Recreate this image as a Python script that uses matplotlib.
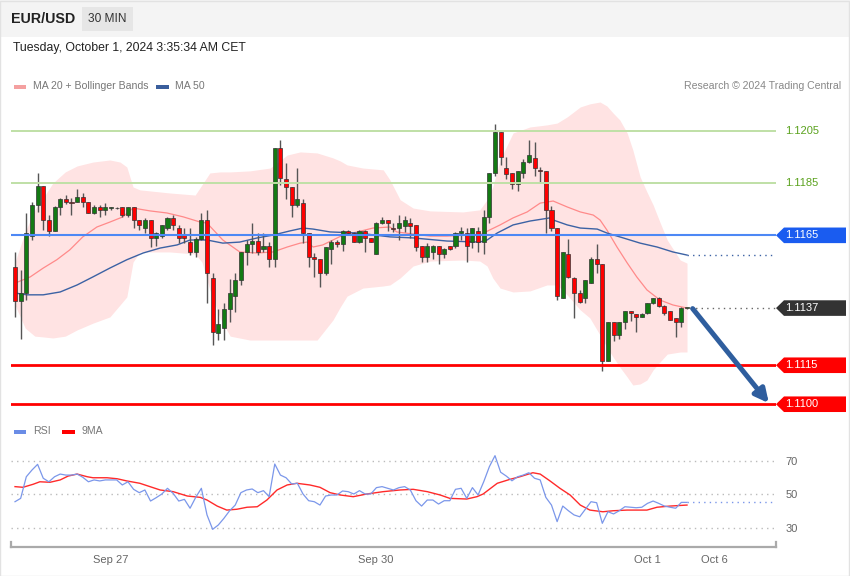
import numpy as np
import matplotlib
matplotlib.use('Agg')
import matplotlib.pyplot as plt
from matplotlib.patches import Rectangle, Polygon
from matplotlib import transforms

plt.rcParams['font.family'] = ['Liberation Sans', 'DejaVu Sans']

W, H = 850, 576
def fx(x): return x / W
def fy(y): return 1 - y / H

# --- 30 min candles EUR/USD ---
opens = [1.11528, 1.11397, 1.11428, 1.11647, 1.11767, 1.11840, 1.11709, 1.11667, 1.11759, 1.11790,
         1.11778, 1.11778, 1.11798, 1.11778, 1.11736, 1.11759, 1.11748, 1.11755, 1.11755, 1.11759,
         1.11728, 1.11759, 1.11709, 1.11678, 1.11709, 1.11640, 1.11647, 1.11678, 1.11717, 1.11678,
         1.11651, 1.11624, 1.11586, 1.11636, 1.11709, 1.11486, 1.11274, 1.11293, 1.11366, 1.11416,
         1.11478, 1.11586, 1.11617, 1.11628, 1.11597, 1.11609, 1.11559, 1.11986, 1.11867, 1.11836,
         1.11767, 1.11774, 1.11659, 1.11567, 1.11559, 1.11505, 1.11597, 1.11624, 1.11617, 1.11667,
         1.11659, 1.11624, 1.11667, 1.11640, 1.11578, 1.11697, 1.11709, 1.11678, 1.11678, 1.11686,
         1.11697, 1.11690, 1.11609, 1.11567, 1.11586, 1.11609, 1.11578, 1.11609, 1.11609, 1.11659,
         1.11659, 1.11624, 1.11667, 1.11624, 1.11721, 1.11890, 1.12048, 1.11909, 1.11890, 1.11848,
         1.11890, 1.11932, 1.11948, 1.11902, 1.11898, 1.11748, 1.11678, 1.11409, 1.11578, 1.11486,
         1.11428, 1.11409, 1.11466, 1.11559, 1.11540, 1.11166, 1.11316, 1.11266, 1.11316, 1.11359,
         1.11347, 1.11336, 1.11351, 1.11389, 1.11409, 1.11378, 1.11359, 1.11332, 1.11316, 1.11370]
highs = [1.11586, 1.11517, 1.11736, 1.11778, 1.11890, 1.11840, 1.11728, 1.11763, 1.11794, 1.11805,
         1.11794, 1.11828, 1.11813, 1.11778, 1.11767, 1.11767, 1.11774, 1.11759, 1.11759, 1.11759,
         1.11759, 1.11759, 1.11709, 1.11717, 1.11709, 1.11663, 1.11690, 1.11721, 1.11728, 1.11690,
         1.11678, 1.11678, 1.11644, 1.11736, 1.11748, 1.11505, 1.11366, 1.11389, 1.11482, 1.11505,
         1.11586, 1.11632, 1.11697, 1.11659, 1.11659, 1.11624, 1.11986, 1.12017, 1.11928, 1.11836,
         1.11909, 1.11790, 1.11659, 1.11582, 1.11559, 1.11605, 1.11632, 1.11632, 1.11671, 1.11671,
         1.11663, 1.11671, 1.11671, 1.11640, 1.11701, 1.11721, 1.11709, 1.11697, 1.11728, 1.11724,
         1.11717, 1.11690, 1.11609, 1.11620, 1.11613, 1.11609, 1.11601, 1.11609, 1.11663, 1.11682,
         1.11678, 1.11678, 1.11682, 1.11748, 1.11890, 1.12079, 1.12048, 1.11952, 1.11890, 1.11898,
         1.11944, 1.12017, 1.12009, 1.11913, 1.11898, 1.11763, 1.11678, 1.11586, 1.11636, 1.11490,
         1.11440, 1.11478, 1.11567, 1.11617, 1.11540, 1.11316, 1.11316, 1.11316, 1.11359, 1.11359,
         1.11347, 1.11351, 1.11389, 1.11409, 1.11413, 1.11382, 1.11359, 1.11332, 1.11374, 1.11370]
lows = [1.11336, 1.11251, 1.11401, 1.11632, 1.11740, 1.11671, 1.11647, 1.11667, 1.11728, 1.11771,
        1.11728, 1.11778, 1.11759, 1.11736, 1.11732, 1.11721, 1.11728, 1.11748, 1.11751, 1.11721,
        1.11721, 1.11678, 1.11671, 1.11659, 1.11605, 1.11609, 1.11640, 1.11671, 1.11671, 1.11620,
        1.11620, 1.11574, 1.11567, 1.11632, 1.11389, 1.11228, 1.11247, 1.11247, 1.11316, 1.11355,
        1.11459, 1.11536, 1.11582, 1.11574, 1.11586, 1.11528, 1.11528, 1.11844, 1.11790, 1.11721,
        1.11759, 1.11620, 1.11528, 1.11490, 1.11451, 1.11497, 1.11540, 1.11605, 1.11590, 1.11651,
        1.11624, 1.11620, 1.11586, 1.11624, 1.11578, 1.11694, 1.11667, 1.11663, 1.11632, 1.11663,
        1.11640, 1.11590, 1.11547, 1.11547, 1.11559, 1.11540, 1.11563, 1.11594, 1.11601, 1.11632,
        1.11547, 1.11601, 1.11586, 1.11578, 1.11697, 1.11878, 1.11921, 1.11867, 1.11828, 1.11821,
        1.11871, 1.11928, 1.11878, 1.11851, 1.11659, 1.11667, 1.11401, 1.11409, 1.11486, 1.11332,
        1.11389, 1.11389, 1.11466, 1.11505, 1.11128, 1.11166, 1.11243, 1.11251, 1.11289, 1.11320,
        1.11278, 1.11336, 1.11347, 1.11386, 1.11374, 1.11343, 1.11324, 1.11259, 1.11297, 1.11366]
closes = [1.11397, 1.11428, 1.11659, 1.11767, 1.11840, 1.11709, 1.11667, 1.11759, 1.11790, 1.11778,
          1.11775, 1.11798, 1.11778, 1.11736, 1.11759, 1.11748, 1.11759, 1.11755, 1.11754, 1.11728,
          1.11759, 1.11709, 1.11690, 1.11709, 1.11640, 1.11659, 1.11690, 1.11717, 1.11690, 1.11640,
          1.11640, 1.11586, 1.11636, 1.11709, 1.11505, 1.11278, 1.11309, 1.11366, 1.11428, 1.11478,
          1.11586, 1.11617, 1.11628, 1.11586, 1.11609, 1.11559, 1.11986, 1.11871, 1.11836, 1.11767,
          1.11790, 1.11659, 1.11567, 1.11559, 1.11505, 1.11605, 1.11624, 1.11617, 1.11667, 1.11659,
          1.11624, 1.11667, 1.11640, 1.11624, 1.11697, 1.11709, 1.11697, 1.11676, 1.11697, 1.11709,
          1.11686, 1.11605, 1.11567, 1.11609, 1.11609, 1.11578, 1.11597, 1.11597, 1.11659, 1.11667,
          1.11609, 1.11678, 1.11624, 1.11721, 1.11890, 1.12048, 1.11952, 1.11886, 1.11848, 1.11898,
          1.11932, 1.11959, 1.11909, 1.11898, 1.11748, 1.11678, 1.11416, 1.11586, 1.11490, 1.11428,
          1.11393, 1.11478, 1.11559, 1.11540, 1.11166, 1.11316, 1.11266, 1.11316, 1.11359, 1.11351,
          1.11336, 1.11347, 1.11389, 1.11409, 1.11378, 1.11351, 1.11324, 1.11316, 1.11370, 1.11370]

# MA 20 (at bar positions)
ma20_x = [0.0, 2.7, 5.0, 7.4, 9.7, 12.0, 14.5, 16.8, 19.1, 20.9, 23.9, 26.9, 29.8, 32.8, 34.0, 36.8,
          39.8, 42.9, 45.7, 48.2, 50.5, 51.7, 52.8, 54.5, 56.3, 58.1, 60.6, 63.4, 66.4, 67.6, 70.5,
          73.5, 76.5, 80.0, 82.3, 84.1, 85.9, 88.2, 90.7, 93.0, 95.3, 97.8, 100.1, 102.4, 103.6,
          104.8, 106.6, 108.4, 110.1, 111.9, 114.2, 116.5, 119.0]
ma20_y = [1.11466, 1.11490, 1.11524, 1.11556, 1.11594, 1.11644, 1.11682, 1.11701, 1.11721, 1.11755,
          1.11744, 1.11736, 1.11721, 1.11701, 1.11697, 1.11632, 1.11586, 1.11582, 1.11586, 1.11605,
          1.11620, 1.11624, 1.11605, 1.11613, 1.11632, 1.11651, 1.11663, 1.11678, 1.11682, 1.11663,
          1.11655, 1.11647, 1.11647, 1.11651, 1.11651, 1.11671, 1.11690, 1.11717, 1.11740, 1.11774,
          1.11782, 1.11759, 1.11740, 1.11728, 1.11709, 1.11671, 1.11605, 1.11544, 1.11490, 1.11440,
          1.11401, 1.11382, 1.11370]

# MA 50
ma50_x = [0.0, 2.1, 5.0, 8.0, 11.0, 13.8, 16.8, 19.8, 22.7, 25.7, 28.7, 31.0, 34.0, 36.8, 39.8,
          42.9, 45.7, 48.7, 51.0, 52.8, 55.8, 60.6, 66.4, 70.5, 76.5, 82.3, 83.6, 85.4, 88.2, 91.2,
          94.7, 95.3, 97.8, 100.1, 103.1, 104.8, 107.7, 110.7, 113.7, 116.5, 119.0]
ma50_y = [1.11428, 1.11421, 1.11421, 1.11432, 1.11459, 1.11490, 1.11524, 1.11556, 1.11582, 1.11601,
          1.11613, 1.11632, 1.11632, 1.11620, 1.11624, 1.11640, 1.11651, 1.11667, 1.11678, 1.11674,
          1.11663, 1.11659, 1.11644, 1.11640, 1.11628, 1.11624, 1.11632, 1.11659, 1.11690, 1.11705,
          1.11717, 1.11709, 1.11690, 1.11678, 1.11674, 1.11659, 1.11640, 1.11620, 1.11605, 1.11586,
          1.11574]

# Bollinger bands
bb_x = [0.0, 1.8, 3.5, 5.0, 6.7, 8.9, 11.0, 13.8, 16.8, 18.6, 19.8, 20.9, 22.1, 27.4, 31.9, 33.1,
        34.5, 36.3, 38.1, 41.6, 45.2, 48.2, 50.5, 53.5, 56.3, 57.6, 58.8, 61.6, 65.2, 66.4, 68.2,
        70.5, 73.5, 79.3, 82.3, 83.6, 84.6, 85.9, 88.2, 91.2, 94.2, 96.0, 97.8, 100.1, 101.8, 103.6,
        104.8, 105.9, 107.1, 108.4, 109.4, 110.7, 111.9, 113.0, 114.2, 115.5, 117.8, 119.0]
bb_upper = [1.11547, 1.11663, 1.11748, 1.11794, 1.11851, 1.11894, 1.11917, 1.11932, 1.11940, 1.11932,
            1.11913, 1.11836, 1.11825, 1.11813, 1.11805, 1.11844, 1.11890, 1.11894, 1.11894, 1.11898,
            1.11909, 1.11959, 1.11971, 1.11967, 1.11948, 1.11936, 1.11921, 1.11909, 1.11902, 1.11863,
            1.11787, 1.11755, 1.11744, 1.11740, 1.11748, 1.11787, 1.11836, 1.11940, 1.12044, 1.12067,
            1.12075, 1.12082, 1.12106, 1.12144, 1.12156, 1.12163, 1.12148, 1.12121, 1.12094, 1.12044,
            1.11979, 1.11875, 1.11817, 1.11767, 1.11701, 1.11632, 1.11555, 1.11543]
bb_lower = [1.11382, 1.11293, 1.11262, 1.11259, 1.11255, 1.11262, 1.11286, 1.11312, 1.11336, 1.11382,
            1.11413, 1.11547, 1.11586, 1.11586, 1.11578, 1.11547, 1.11440, 1.11332, 1.11262, 1.11247,
            1.11247, 1.11247, 1.11247, 1.11247, 1.11324, 1.11374, 1.11416, 1.11447, 1.11455, 1.11459,
            1.11486, 1.11532, 1.11551, 1.11555, 1.11551, 1.11532, 1.11486, 1.11447, 1.11432, 1.11436,
            1.11459, 1.11459, 1.11420, 1.11363, 1.11332, 1.11266, 1.11220, 1.11182, 1.11143, 1.11105,
            1.11074, 1.11078, 1.11093, 1.11132, 1.11162, 1.11193, 1.11201, 1.11201]

# RSI (one value per bar) and its 9 period MA
rsi = [45.4, 47.4, 60.3, 64.3, 67.7, 59.4, 57.3, 60.3, 61.9, 61.3,
       61.3, 61.9, 60.0, 57.3, 58.4, 57.8, 58.4, 58.4, 58.4, 55.4,
       57.3, 52.8, 50.8, 52.4, 45.8, 47.8, 50.0, 53.4, 50.4, 45.8,
       46.8, 41.5, 48.0, 53.4, 37.5, 28.9, 31.5, 35.5, 40.0, 43.4,
       50.8, 52.4, 53.0, 50.8, 52.0, 48.4, 67.9, 61.3, 59.7, 56.0,
       56.4, 50.0, 46.0, 45.4, 43.4, 48.8, 49.4, 49.4, 51.8, 51.4,
       50.0, 52.0, 50.0, 50.0, 53.8, 54.4, 53.4, 52.4, 53.8, 54.4,
       52.4, 46.0, 42.8, 46.4, 46.4, 44.0, 46.0, 46.0, 52.8, 53.4,
       47.4, 53.8, 49.4, 57.3, 66.3, 72.9, 63.0, 60.7, 57.9, 60.3,
       61.3, 62.7, 59.4, 58.4, 48.0, 43.4, 33.5, 42.8, 40.0, 37.5,
       36.4, 40.9, 45.4, 44.8, 32.5, 39.4, 38.1, 40.0, 42.4, 42.1,
       41.8, 42.1, 44.4, 45.8, 44.4, 42.8, 42.1, 41.5, 45.0, 45.0]
ma9_x = [0.0, 1.4, 3.2, 4.4, 6.2, 8.0, 9.4, 11.0, 12.8, 13.8, 16.3, 18.1, 19.8, 22.1, 23.9, 25.7,
         28.0, 30.5, 32.8, 34.0, 35.8, 37.5, 39.3, 41.1, 42.9, 44.6, 46.4, 48.2, 49.9, 52.2, 54.0,
         55.8, 57.6, 59.9, 62.3, 65.2, 68.2, 70.5, 73.0, 75.3, 77.0, 80.0, 81.8, 82.9, 85.4, 87.7,
         89.4, 91.7, 93.0, 94.7, 96.5, 98.3, 100.1, 101.8, 104.1, 105.9, 108.4, 111.9, 113.7,
         116.0, 119.0]
ma9_y = [54.4, 54.0, 55.8, 57.3, 57.0, 58.4, 60.7, 61.9, 60.3, 59.7, 59.7, 59.1, 57.8, 56.4, 54.4,
         52.4, 51.4, 48.8, 48.0, 46.4, 42.8, 40.4, 40.9, 42.1, 42.4, 46.4, 52.4, 55.4, 56.4, 55.4,
         54.0, 50.8, 49.4, 48.4, 50.0, 51.4, 52.4, 52.8, 51.4, 49.4, 47.4, 47.0, 48.4, 50.0, 56.4,
         58.8, 60.3, 62.7, 61.9, 57.9, 53.4, 49.4, 43.4, 40.4, 39.4, 40.0, 40.4, 40.4, 42.1, 42.8,
         43.4]

# key levels
resist = [1.1205, 1.1185]
pivot = 1.1165
supports = [1.1115, 1.1100]
last_price = closes[-1]
forecast_end = 133.5     # bar where the forecast arrow ends
target = 1.1100

date_ticks = [17.0, 63.9, 111.9, 123.8]
date_labels = ['Sep 27', 'Sep 30', 'Oct 1', 'Oct 6']
rsi_levels = [30, 50, 70]

xmin, xmax = -0.71, 134.76

fig = plt.figure(figsize=(W / 100, H / 100), dpi=100)
fig.patch.set_facecolor('white')

# header strip + frame
fig.add_artist(Rectangle((0, fy(37)), 1, 37 / H, transform=fig.transFigure,
                         facecolor='#f4f4f4', edgecolor='none', zorder=0))
fig.add_artist(Rectangle((fx(82), fy(31)), 51 / W, 24 / H, transform=fig.transFigure,
                         facecolor='#e6e6e6', edgecolor='none', zorder=1))
fig.add_artist(Rectangle((0.0005, 0.0008), 0.998, 0.998, transform=fig.transFigure,
                         facecolor='none', edgecolor='#e2e2e2', lw=1, zorder=5))
fig.text(fx(11), fy(19), 'EUR/USD', fontsize=10.3, fontweight='bold', color='#222',
         va='center', ha='left')
fig.text(fx(107.5), fy(19), '30 MIN', fontsize=8.6, color='#333', va='center', ha='center')
fig.text(fx(13), fy(48), 'Tuesday, October 1, 2024 3:35:34 AM CET', fontsize=8.8, color='#222',
         va='center', ha='left')

# legends
fig.add_artist(Rectangle((fx(14), fy(88.5)), 12 / W, 4 / H, transform=fig.transFigure,
                         facecolor='#f4a0a0', edgecolor='none'))
fig.text(fx(33), fy(86), 'MA 20 + Bollinger Bands', fontsize=7.6, color='#777', va='center')
fig.add_artist(Rectangle((fx(156), fy(88.5)), 13 / W, 4 / H, transform=fig.transFigure,
                         facecolor='#3a5e9c', edgecolor='none'))
fig.text(fx(175), fy(86), 'MA 50', fontsize=7.6, color='#777', va='center')
fig.text(fx(841), fy(86), 'Research \u00a9 2024 Trading Central', fontsize=7.6, color='#888',
         va='center', ha='right')
fig.add_artist(Rectangle((fx(14), fy(433.5)), 12 / W, 4 / H, transform=fig.transFigure,
                         facecolor='#6a8ce6', edgecolor='none'))
fig.text(fx(33), fy(431), 'RSI', fontsize=7.6, color='#777', va='center')
fig.add_artist(Rectangle((fx(62), fy(433.5)), 13 / W, 4 / H, transform=fig.transFigure,
                         facecolor='#ff0000', edgecolor='none'))
fig.text(fx(82), fy(431), '9MA', fontsize=7.6, color='#777', va='center')

# ---------------- price panel ----------------
ax = fig.add_axes([fx(11), fy(418), (776 - 11) / W, (418 - 95) / H])
ax.set_facecolor('none')
ax.set_xlim(xmin, xmax)
ax.set_ylim(1.10947, 1.12190)
ax.axis('off')

ax.fill_between(bb_x, bb_lower, bb_upper, color='#ffe3e3', lw=0, zorder=1)
ax.plot(ma20_x, ma20_y, color='#ff8a8a', lw=0.9, zorder=2)
ax.plot(ma50_x, ma50_y, color='#3c62a4', lw=1.0, zorder=2)
ax.plot([ma50_x[-1], xmax], [ma50_y[-1], ma50_y[-1]], color='#3c62a4', lw=1,
        ls=(0, (1, 3)), zorder=2)

idx = np.arange(len(closes))
o = np.array(opens); c = np.array(closes); h = np.array(highs); l = np.array(lows)
up = c >= o
ax.vlines(idx, l, h, color='#555', lw=1, zorder=3)
body_lo = np.minimum(o, c)
body_h = np.maximum(np.abs(c - o), 0.00003)
ax.bar(idx[up], body_h[up], bottom=body_lo[up], width=0.72, color='#137a13',
       edgecolor='#333', lw=0.5, zorder=4)
ax.bar(idx[~up], body_h[~up], bottom=body_lo[~up], width=0.72, color='#ff0000',
       edgecolor='#333', lw=0.5, zorder=4)

# levels
for lv in resist:
    ax.axhline(lv, color='#bfe0a6', lw=1.4, zorder=5)
ax.axhline(pivot, color='#4d88f5', lw=1.5, zorder=5)
for lv in supports:
    ax.axhline(lv, color='#ff0000', lw=2, zorder=5)
ax.plot([idx[-1] + 0.5, xmax], [last_price, last_price], color='#666', lw=1,
        ls=(0, (1, 3)), zorder=5)

# forecast arrow
ax.annotate('', xy=(forecast_end, target + 0.00004), xytext=(idx[-1] + 1.0, last_price - 0.00002),
            arrowprops=dict(arrowstyle='-|>', color='#2f5e9e', lw=3.6, mutation_scale=20,
                            shrinkA=0, shrinkB=0), zorder=6)

# right side tags
bt = transforms.blended_transform_factory(ax.transAxes, ax.transData)
aw = 765.0
half = 0.00030
tags = [(pivot, '#1a5cf0'), (last_price, '#333333'), (supports[0], '#ff0000'),
        (supports[1], '#ff0000')]
for lv, col in tags:
    poly = Polygon([(1.0, lv), (1 + 8 / aw, lv + half), (1 + 70 / aw, lv + half),
                    (1 + 70 / aw, lv - half), (1 + 8 / aw, lv - half)], closed=True,
                   transform=bt, facecolor=col, edgecolor='none', clip_on=False, zorder=7)
    ax.add_patch(poly)
    ax.text(1 + 9 / aw, lv, '%.4f' % lv, transform=bt, color='white', fontsize=8,
            va='center', ha='left', clip_on=False, zorder=8)
for lv in resist:
    ax.text(1 + 9 / aw, lv, '%.4f' % lv, transform=bt, color='#5ba21e', fontsize=8,
            va='center', ha='left', clip_on=False, zorder=8)

# ---------------- RSI panel ----------------
ax2 = fig.add_axes([fx(11), fy(547), (776 - 11) / W, (547 - 440) / H])
ax2.set_facecolor('none')
ax2.set_xlim(xmin, xmax)
ax2.set_ylim(18.36, 82.24)
for lv in rsi_levels:
    ax2.axhline(lv, color='#bbbbbb', lw=1, ls=(0, (1, 3)), zorder=1)
ax2.plot(idx, rsi, color='#7b97ea', lw=0.9, zorder=3)
ax2.plot(ma9_x, ma9_y, color='#ff2a2a', lw=1.0, zorder=2)
ax2.plot([idx[-1], xmax], [rsi[-1], rsi[-1]], color='#7b97ea', lw=1, ls=(0, (1, 3)), zorder=2)

for s in ['top', 'left', 'right']:
    ax2.spines[s].set_visible(False)
ax2.spines['bottom'].set_color('#aaaaaa')
ax2.spines['bottom'].set_linewidth(1.6)
ax2.set_xticks(date_ticks)
ax2.set_xticklabels(date_labels)
ax2.tick_params(axis='x', length=0, pad=6, labelsize=8, labelcolor='#666')
ax2.yaxis.tick_right()
ax2.set_yticks(rsi_levels)
ax2.tick_params(axis='y', length=0, pad=7, labelsize=8, labelcolor='#666')
bt2 = transforms.blended_transform_factory(ax2.transAxes, ax2.transAxes)
for xe in [0.0, 1.0]:
    ax2.plot([xe, xe], [0, 0.045], transform=bt2, color='#aaaaaa', lw=1.6, clip_on=False)

fig.savefig('out.png', dpi=100, facecolor=fig.get_facecolor())
